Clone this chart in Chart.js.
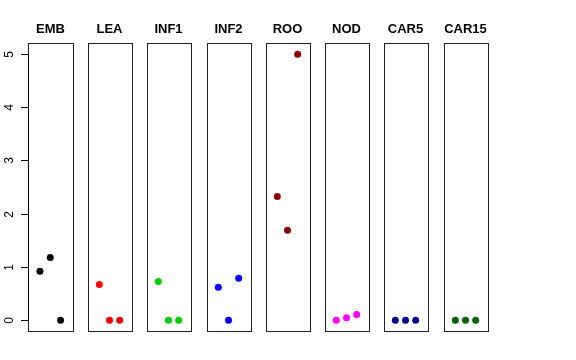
<!DOCTYPE html>
<html>
<head>
<meta charset="utf-8">
<script src="https://cdn.jsdelivr.net/npm/chart.js@4.4.0/dist/chart.umd.min.js"></script>
<style>
  html, body { margin: 0; padding: 0; background: #ffffff; }
  #wrap { position: relative; width: 576px; height: 360px; overflow: hidden; background: #fff; }
  canvas { position: absolute; top: 0; }
</style>
</head>
<body>
<div id="wrap"></div>
<script>
// ---- data ----
const categories = ["EMB", "LEA", "INF1", "INF2", "ROO", "NOD", "CAR5", "CAR15"];
const replicateX = [1, 2, 3];
const EMB   = [0.92, 1.18, 0.00];
const LEA   = [0.67, 0.00, 0.00];
const INF1  = [0.73, 0.00, 0.00];
const INF2  = [0.62, 0.00, 0.79];
const ROO   = [2.32, 1.69, 4.99];
const NOD   = [0.00, 0.05, 0.11];
const CAR5  = [0.00, 0.00, 0.00];
const CAR15 = [0.00, 0.00, 0.00];
const seriesValues = [EMB, LEA, INF1, INF2, ROO, NOD, CAR5, CAR15];
const yTickLabels = ["0", "1", "2", "3", "4", "5"];

// ---- styles / layout ----
const colors = ["#000000", "#FF0000", "#00CD00", "#0000FF", "#8B0000", "#FF00FF", "#00008B", "#006400"];
const panelLefts = [28, 87, 146, 206, 265, 324, 383, 443];
const panelW = 45;
const canvasH = 340;
const areaTop = 43, areaBottom = 331;

const wrap = document.getElementById('wrap');

const boxPlugin = {
  id: 'box',
  afterDraw(chart) {
    const a = chart.chartArea, ctx = chart.ctx;
    ctx.save();
    ctx.strokeStyle = '#222222';
    ctx.lineWidth = 1;
    ctx.strokeRect(Math.round(a.left) + 0.5, Math.round(a.top) + 0.5,
                   Math.round(a.right - a.left), Math.round(a.bottom - a.top));
    ctx.restore();
  }
};

const yAxisPlugin = {
  id: 'yaxisR',
  afterDraw(chart) {
    const y = chart.scales.y, ctx = chart.ctx, a = chart.chartArea;
    const x0 = Math.round(a.left) + 0.5;
    ctx.save();
    ctx.strokeStyle = '#000';
    ctx.fillStyle = '#000';
    ctx.lineWidth = 1;
    ctx.beginPath();
    ctx.moveTo(x0, Math.round(y.getPixelForValue(Number(yTickLabels[0]))) + 0.5);
    ctx.lineTo(x0, Math.round(y.getPixelForValue(Number(yTickLabels[yTickLabels.length - 1]))) + 0.5);
    ctx.stroke();
    ctx.font = '12px "Liberation Sans", Arial, sans-serif';
    ctx.textAlign = 'center';
    ctx.textBaseline = 'alphabetic';
    yTickLabels.forEach(lbl => {
      const py = Math.round(y.getPixelForValue(Number(lbl))) + 0.5;
      ctx.beginPath();
      ctx.moveTo(x0 - 7.5, py);
      ctx.lineTo(x0, py);
      ctx.stroke();
      ctx.save();
      ctx.translate(13, py);
      ctx.rotate(-Math.PI / 2);
      ctx.fillText(lbl, 0, 0);
      ctx.restore();
    });
    ctx.restore();
  }
};

categories.forEach((cat, i) => {
  const padL = i === 0 ? panelLefts[0] : 3;
  const padR = 3;
  const cv = document.createElement('canvas');
  cv.width = padL + panelW + padR;
  cv.height = canvasH;
  cv.style.left = (panelLefts[i] - padL) + 'px';
  cv.style.width = cv.width + 'px';
  cv.style.height = canvasH + 'px';
  wrap.appendChild(cv);

  const pts = replicateX.map((x, k) => ({ x: x, y: seriesValues[i][k] }));
  new Chart(cv, {
    type: 'scatter',
    data: {
      datasets: [{
        data: pts,
        backgroundColor: colors[i],
        borderColor: colors[i],
        pointRadius: 3.5,
        pointBorderWidth: 0,
        pointHoverRadius: 3.5
      }]
    },
    options: {
      responsive: false,
      animation: false,
      devicePixelRatio: 1,
      layout: { padding: { left: padL, right: padR, top: 0, bottom: canvasH - areaBottom } },
      scales: {
        x: { type: 'linear', min: -0.16, max: 4.16, display: false },
        y: { type: 'linear', min: -0.2, max: 5.2, display: false }
      },
      plugins: {
        legend: { display: false },
        tooltip: { enabled: false },
        title: {
          display: true,
          text: cat,
          color: '#000',
          font: { family: '"Liberation Sans", Arial, sans-serif', size: 13, weight: 'bold', lineHeight: 1.2 },
          padding: { top: 22, bottom: areaTop - 22 - 15.6 }
        }
      }
    },
    plugins: i === 0 ? [boxPlugin, yAxisPlugin] : [boxPlugin]
  });
});
</script>
</body>
</html>
